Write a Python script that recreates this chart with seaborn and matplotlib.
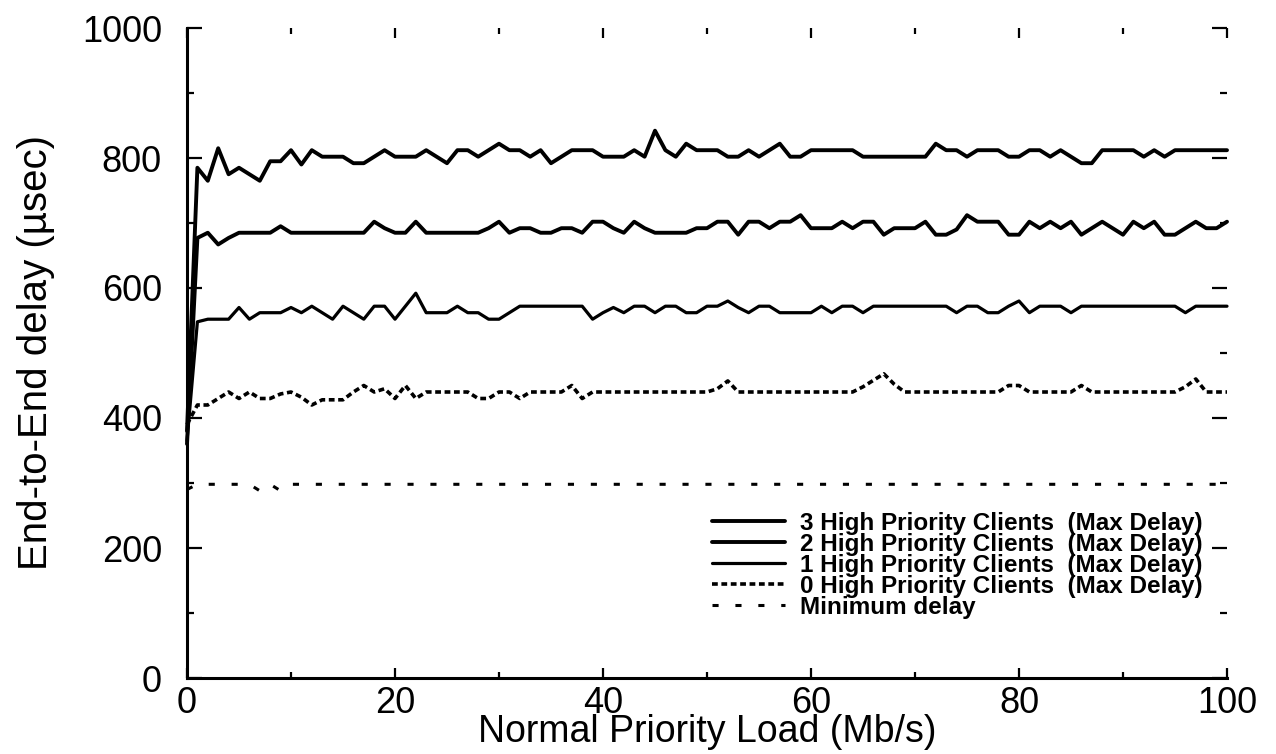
import matplotlib
matplotlib.use("Agg")
import matplotlib.pyplot as plt
import seaborn as sns
import pandas as pd
from matplotlib.ticker import MultipleLocator

# ---------------- data ----------------
load = list(range(0, 101))

delay_3 = [380, 785, 765, 815, 775, 785, 775, 765, 795, 795,
           812, 790, 812, 802, 802, 802, 792, 792, 802, 812,
           802, 802, 802, 812, 802, 792, 812, 812, 802, 812,
           822, 812, 812, 802, 812, 792, 802, 812, 812, 812,
           802, 802, 802, 812, 802, 842, 812, 802, 822, 812,
           812, 812, 802, 802, 812, 802, 812, 822, 802, 802,
           812, 812, 812, 812, 812, 802, 802, 802, 802, 802,
           802, 802, 822, 812, 812, 802, 812, 812, 812, 802,
           802, 812, 812, 802, 812, 802, 792, 792, 812, 812,
           812, 812, 802, 812, 802, 812, 812, 812, 812, 812,
           812]

delay_2 = [360, 677, 685, 667, 677, 685, 685, 685, 685, 695,
           685, 685, 685, 685, 685, 685, 685, 685, 702, 692,
           685, 685, 702, 685, 685, 685, 685, 685, 685, 692,
           702, 685, 692, 692, 685, 685, 692, 692, 685, 702,
           702, 692, 685, 702, 692, 685, 685, 685, 685, 692,
           692, 702, 702, 682, 702, 702, 692, 702, 702, 712,
           692, 692, 692, 702, 692, 702, 702, 682, 692, 692,
           692, 702, 682, 682, 690, 712, 702, 702, 702, 682,
           682, 702, 692, 702, 692, 702, 682, 692, 702, 692,
           682, 702, 692, 702, 682, 682, 692, 702, 692, 692,
           702]

delay_1 = [365, 548, 552, 552, 552, 570, 552, 562, 562, 562,
           570, 562, 572, 562, 552, 572, 562, 552, 572, 572,
           552, 572, 592, 562, 562, 562, 572, 562, 562, 552,
           552, 562, 572, 572, 572, 572, 572, 572, 572, 552,
           562, 570, 562, 572, 572, 562, 572, 572, 562, 562,
           572, 572, 580, 570, 562, 572, 572, 562, 562, 562,
           562, 572, 562, 572, 572, 562, 572, 572, 572, 572,
           572, 572, 572, 572, 562, 572, 572, 562, 562, 572,
           580, 562, 572, 572, 572, 562, 572, 572, 572, 572,
           572, 572, 572, 572, 572, 572, 562, 572, 572, 572,
           572]

delay_0 = [390, 420, 420, 430, 440, 430, 440, 430, 430, 437,
           440, 432, 420, 428, 428, 428, 440, 450, 440, 445,
           430, 450, 430, 440, 440, 440, 440, 440, 430, 430,
           440, 440, 430, 440, 440, 440, 440, 450, 430, 440,
           440, 440, 440, 440, 440, 440, 440, 440, 440, 440,
           440, 445, 457, 440, 440, 440, 440, 440, 440, 440,
           440, 440, 440, 440, 440, 448, 458, 468, 452, 440,
           440, 440, 440, 440, 440, 440, 440, 440, 440, 450,
           450, 440, 440, 440, 440, 440, 450, 440, 440, 440,
           440, 440, 440, 440, 440, 440, 448, 460, 440, 440,
           440]

delay_min = [290, 298, 298, 298, 298, 298, 298, 288, 298, 288,
             298] + [298] * 90

series_labels = [
    "3 High Priority Clients  (Max Delay)",
    "2 High Priority Clients  (Max Delay)",
    "1 High Priority Clients  (Max Delay)",
    "0 High Priority Clients  (Max Delay)",
    "Minimum delay",
]

x_label = "Normal Priority Load (Mb/s)"
y_label = "End-to-End delay (\u00b5sec)"

# ---------------- style ----------------
sns.set_style("white")
plt.rcParams["font.family"] = ["Liberation Sans", "DejaVu Sans"]
for key in ["text.color", "axes.labelcolor", "xtick.color", "ytick.color",
            "axes.edgecolor"]:
    plt.rcParams[key] = "black"

W, H = 1276, 754
fig = plt.figure(figsize=(W / 100, H / 100), dpi=100)
ax = fig.add_axes([187 / W, 1 - 678 / H, 1040 / W, 650 / H])

series = [delay_3, delay_2, delay_1, delay_0, delay_min]
styles = [
    dict(lw=2.8, linestyle="-"),
    dict(lw=2.8, linestyle="-"),
    dict(lw=2.3, linestyle="-"),
    dict(lw=2.6, linestyle=(0, (1.6, 1.0))),
    dict(lw=2.2, linestyle=(0, (2.0, 5.5))),
]

for vals, lab, st in zip(series, series_labels, styles):
    df = pd.DataFrame({"load": load, "delay": vals})
    sns.lineplot(data=df, x="load", y="delay", ax=ax, color="black",
                 label=lab, clip_on=False, **st)

ax.set_xlim(0, 100)
ax.set_ylim(0, 1000)

ax.xaxis.set_major_locator(MultipleLocator(20))
ax.xaxis.set_minor_locator(MultipleLocator(10))
ax.yaxis.set_major_locator(MultipleLocator(200))
ax.yaxis.set_minor_locator(MultipleLocator(100))

ax.tick_params(which="both", direction="in", top=True, right=True,
               bottom=True, left=True, color="black", width=1.6)
ax.tick_params(axis="x", which="major", length=7, labelsize=26, pad=6,
               labelcolor="black")
ax.tick_params(axis="x", which="minor", length=4)
ax.tick_params(axis="y", which="major", length=11, labelsize=26, pad=18,
               labelcolor="black")
ax.tick_params(axis="y", which="minor", length=5)

for side in ["top", "right"]:
    ax.spines[side].set_visible(False)
for side in ["left", "bottom"]:
    ax.spines[side].set_visible(True)
    ax.spines[side].set_linewidth(2.2)
    ax.spines[side].set_color("black")

ax.set_xlabel(x_label, fontsize=27, labelpad=-5, color="black")
ax.set_ylabel(y_label, fontsize=29, labelpad=19, color="black")

leg = ax.legend(loc="upper left", bbox_to_anchor=(0.505, 0.256),
                frameon=False, prop={"weight": "bold", "size": 17.5},
                labelspacing=-0.08, handlelength=3.0, handletextpad=0.6,
                borderpad=0, borderaxespad=0)
for t in leg.get_texts():
    t.set_color("black")

fig.savefig("out.png", dpi=100)
